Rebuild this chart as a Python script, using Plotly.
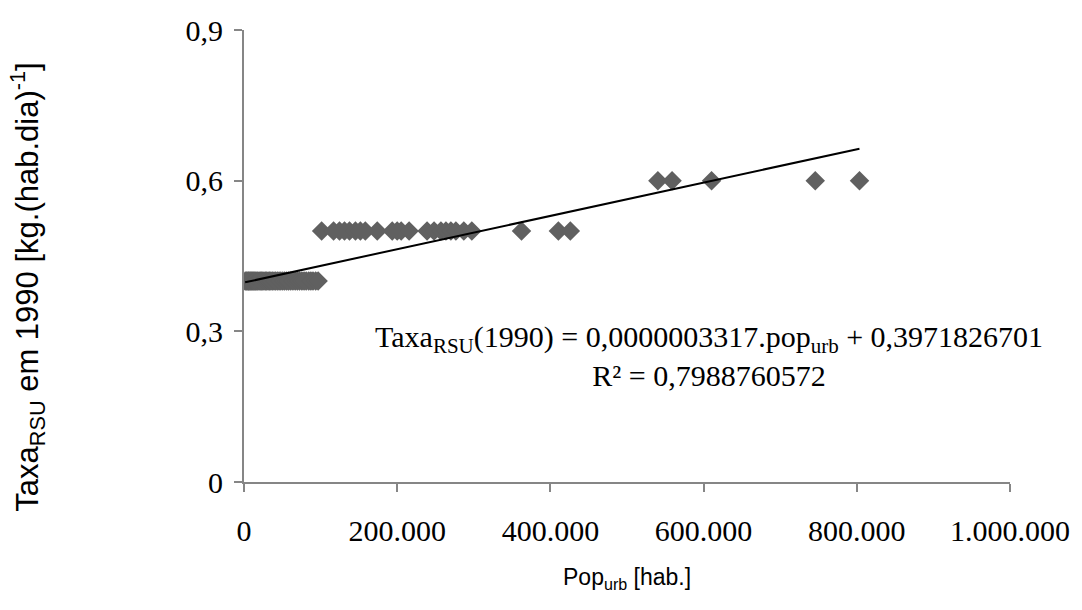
import plotly.graph_objects as go

# Urban population [inhabitants] per municipality and its 1990 waste generation rate
pop_rate_04 = [1500, 2800, 3900, 5200, 6100, 7400, 8600, 9800, 11200, 12500, 13900,
               15300, 16800, 18100, 19700, 21200, 22800, 24500, 26100, 27900, 29600,
               31400, 33200, 35100, 37000, 39200, 41300, 43500, 45800, 48100, 50600,
               53000, 55700, 58300, 61000, 63900, 66800, 69700, 72500, 75600, 78400,
               81200, 84500, 87300, 90100, 93600, 96800]
pop_rate_05 = [101300, 116900, 124700, 131200, 137700, 145500, 151900, 158400, 174000,
               193500, 200000, 205200, 215600, 239000, 248100, 257100, 263600, 270100,
               276600, 287000, 297400, 362300, 410400, 426000]
pop_rate_06 = [540300, 558800, 610400, 745800, 803500]

pop_urb = pop_rate_04 + pop_rate_05 + pop_rate_06
taxa_rsu = [0.4] * len(pop_rate_04) + [0.5] * len(pop_rate_05) + [0.6] * len(pop_rate_06)

# Linear trend coefficients
slope = 0.0000003317
intercept = 0.3971826701
r2 = 0.7988760572

x_ticks = [0, 200000, 400000, 600000, 800000, 1000000]
x_tick_text = ["0", "200.000", "400.000", "600.000", "800.000", "1.000.000"]
y_ticks = [0, 0.3, 0.6, 0.9]
y_tick_text = ["0", "0,3", "0,6", "0,9"]

trend_x = [min(pop_urb), max(pop_urb)]
trend_y = [slope * v + intercept for v in trend_x]

fig = go.Figure()
fig.add_trace(go.Scatter(
    x=pop_urb, y=taxa_rsu, mode="markers",
    marker=dict(symbol="diamond", size=15, color="#606060", line=dict(width=0)),
    showlegend=False,
))
fig.add_trace(go.Scatter(
    x=trend_x, y=trend_y, mode="lines",
    line=dict(color="black", width=2), showlegend=False,
))

def fmt(v):
    return f"{v:.10f}".replace(".", ",")

serif = "Liberation Serif"
sans = "Liberation Sans"

# Trend equation
fig.add_annotation(
    x=0.6065, y=0.279, xref="paper", yref="paper", xanchor="center", yanchor="middle",
    showarrow=False, align="center",
    text=(f"Taxa<sub>RSU</sub>(1990) = 0,0000003317.pop<sub>urb</sub> + {fmt(intercept)}"
          f"<br>R² = {fmt(r2)}"),
    font=dict(family=serif, size=30, color="black"),
)

# Axis titles
fig.add_annotation(
    x=0.5, y=-0.2126, xref="paper", yref="paper", xanchor="center", yanchor="middle",
    showarrow=False, text="Pop<sub>urb</sub> [hab.]",
    font=dict(family=sans, size=23, color="black"),
)
fig.add_annotation(
    x=-0.282, y=0.432, xref="paper", yref="paper", xanchor="center", yanchor="middle",
    showarrow=False, textangle=-90,
    text="Taxa<sub>RSU</sub> em 1990 [kg.(hab.dia)<sup>-1</sup>]",
    font=dict(family=sans, size=31, color="black"),
)

axis_common = dict(
    showline=True, linecolor="#868686", linewidth=2,
    ticks="outside", ticklen=8, tickwidth=2, tickcolor="#868686",
    showgrid=False, zeroline=False,
    tickfont=dict(family=serif, size=30, color="black"),
)

fig.update_xaxes(
    range=[0, 1000000], tickvals=x_ticks, ticktext=x_tick_text,
    ticklabelstandoff=13, **axis_common,
)
fig.update_yaxes(
    range=[0, 0.9], tickvals=y_ticks, ticktext=y_tick_text,
    ticklabelstandoff=5, **axis_common,
)

fig.update_layout(
    width=1082, height=610,
    margin=dict(l=244, r=68, t=30, b=128),
    paper_bgcolor="white", plot_bgcolor="white",
)

fig.write_html("out.html")
